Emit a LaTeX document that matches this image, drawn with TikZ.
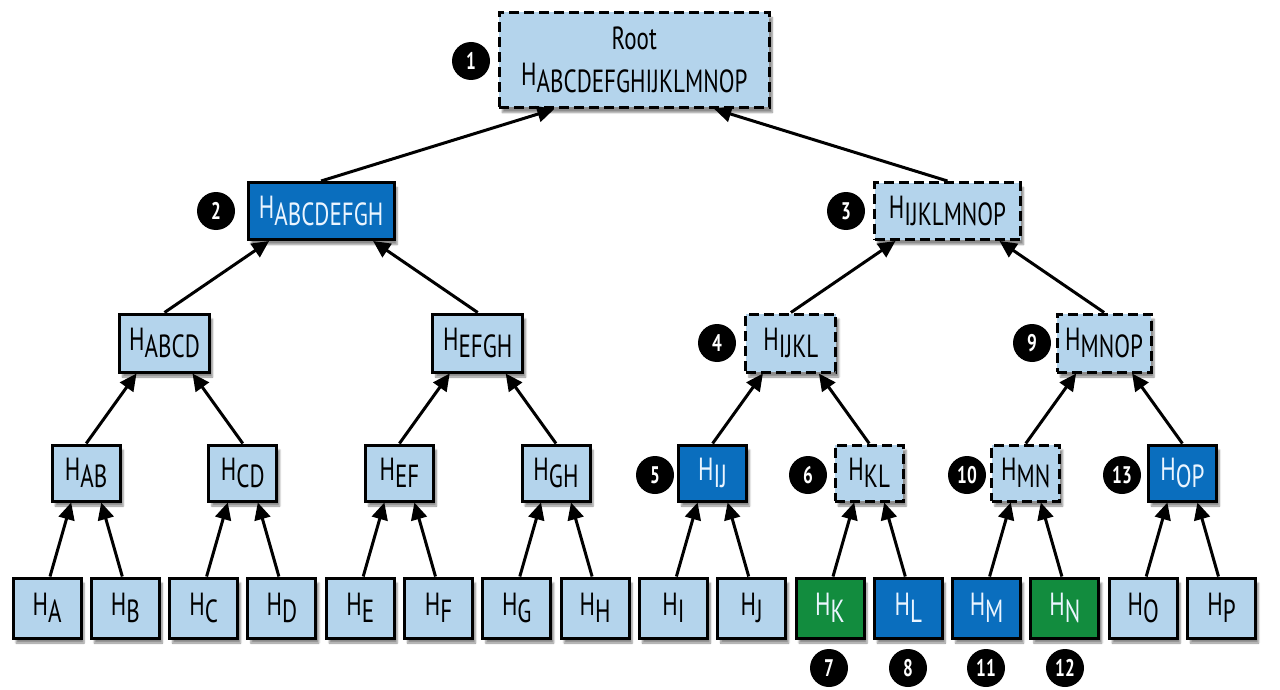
\documentclass[tikz,border=0pt]{standalone}
\usepackage{fontspec}
\newfontfamily\hfont{PT Sans}[FakeStretch=0.72]
\usetikzlibrary{arrows.meta,shadows.blur}
\definecolor{lblue}{RGB}{180,212,236}
\definecolor{dblue}{RGB}{10,110,190}
\definecolor{hgreen}{RGB}{18,140,62}
\definecolor{ltext}{RGB}{235,245,255}
\newcommand{\hh}[1]{H\raisebox{-7pt}{#1}}
\tikzset{
  hbox/.style={draw=black, line width=3pt, inner xsep=8pt, inner ysep=0pt,
    font=\hfont\fontsize{32}{34}\selectfont,
    blur shadow={shadow xshift=3pt, shadow yshift=-5pt, shadow blur steps=6, shadow opacity=45}},
  lite/.style={hbox, fill=lblue, text=black},
  dark/.style={hbox, fill=dblue, text=ltext},
  grn/.style={hbox, fill=hgreen, text=ltext},
  onpath/.style={dash pattern=on 10pt off 5pt},
  leaf/.style={minimum width=68pt, minimum height=60pt},
  lone/.style={minimum width=68pt, minimum height=56pt},
  ltwo/.style={minimum width=90pt, minimum height=58pt},
  lthree/.style={minimum width=146pt, minimum height=57pt},
  numdot/.style={circle, fill=black, text=white, minimum size=38pt, inner sep=0pt,
    font=\hfont\bfseries\fontsize{24}{24}\selectfont},
  arr/.style={line width=3pt, -{Triangle[length=17pt,width=16pt]}},
}
\begin{document}
\begin{tikzpicture}[x=1pt,y=-1pt]
\useasboundingbox (0,0) rectangle (1280,690);
% leaves
\node[lite,leaf] (A) at (47,608) {\hh{A}};
\node[lite,leaf] (B) at (125.3,608) {\hh{B}};
\node[lite,leaf] (C) at (203.6,608) {\hh{C}};
\node[lite,leaf] (D) at (281.9,608) {\hh{D}};
\node[lite,leaf] (E) at (360.2,608) {\hh{E}};
\node[lite,leaf] (F) at (438.5,608) {\hh{F}};
\node[lite,leaf] (G) at (516.8,608) {\hh{G}};
\node[lite,leaf] (H) at (595.1,608) {\hh{H}};
\node[lite,leaf] (I) at (673.4,608) {\hh{I}};
\node[lite,leaf] (J) at (751.7,608) {\hh{J}};
\node[grn,leaf] (K) at (830,608) {\hh{K}};
\node[dark,leaf] (L) at (908.3,608) {\hh{L}};
\node[dark,leaf] (M) at (986.6,608) {\hh{M}};
\node[grn,leaf] (N) at (1064.9,608) {\hh{N}};
\node[lite,leaf] (O) at (1143.2,608) {\hh{O}};
\node[lite,leaf] (P) at (1221.5,608) {\hh{P}};
% level 1
\node[lite,lone] (AB) at (86.2,473) {\hh{AB}};
\node[lite,lone] (CD) at (242.8,473) {\hh{CD}};
\node[lite,lone] (EF) at (399.4,473) {\hh{EF}};
\node[lite,lone] (GH) at (556,473) {\hh{GH}};
\node[dark,lone] (IJ) at (712.6,473) {\hh{IJ}};
\node[lite,lone,onpath] (KL) at (869.2,473) {\hh{KL}};
\node[lite,lone,onpath] (MN) at (1025.8,473) {\hh{MN}};
\node[dark,lone] (OP) at (1182.4,473) {\hh{OP}};
% level 2
\node[lite,ltwo] (ABCD) at (164.5,343) {\hh{ABCD}};
\node[lite,ltwo] (EFGH) at (477.7,343) {\hh{EFGH}};
\node[lite,ltwo,onpath] (IJKL) at (790.9,343) {\hh{IJKL}};
\node[lite,ltwo,onpath] (MNOP) at (1104.1,343) {\hh{MNOP}};
% level 3
\node[dark,lthree] (AH) at (321.1,211) {\hh{ABCDEFGH}};
\node[lite,lthree,onpath] (IP) at (947.5,211) {\hh{IJKLMNOP}};
% root
\node[lite,onpath,minimum width=270pt,minimum height=95pt,align=center] (root) at (634.3,60)
  {Root\\[2pt]\hh{ABCDEFGHIJKLMNOP}};
% arrows leaves -> level 1
\foreach \a/\b/\p in {A/B/AB, C/D/CD, E/F/EF, G/H/GH, I/J/IJ, K/L/KL, M/N/MN, O/P/OP}{
  \draw[arr] ([xshift=3pt]\a.north) -- ([xshift=-15pt]\p.south);
  \draw[arr] ([xshift=-3pt]\b.north) -- ([xshift=15pt]\p.south);
}
\foreach \a/\b/\p in {AB/CD/ABCD, EF/GH/EFGH, IJ/KL/IJKL, MN/OP/MNOP}{
  \draw[arr] (\a.north) -- ([xshift=-28pt]\p.south);
  \draw[arr] (\b.north) -- ([xshift=28pt]\p.south);
}
\foreach \a/\b/\p in {ABCD/EFGH/AH, IJKL/MNOP/IP}{
  \draw[arr] (\a.north) -- ([xshift=-52pt]\p.south);
  \draw[arr] (\b.north) -- ([xshift=52pt]\p.south);
}
\draw[arr] (AH.north) -- ([xshift=-80pt]root.south);
\draw[arr] (IP.north) -- ([xshift=80pt]root.south);
% markers
\node[numdot] (m1) at (471,61) {1};
\node[numdot] (m2) at (216,211) {2};
\node[numdot] (m3) at (846,211) {3};
\node[numdot] (m4) at (717,343) {4};
\node[numdot] (m9) at (1032,343) {9};
\node[numdot] (m5) at (655,475) {5};
\node[numdot] (m6) at (808,475) {6};
\node[numdot] (m10) at (967,475) {10};
\node[numdot] (m13) at (1122,475) {13};
\node[numdot] (m7) at (829,668) {7};
\node[numdot] (m8) at (908,668) {8};
\node[numdot] (m11) at (986,668) {11};
\node[numdot] (m12) at (1065,668) {12};
\end{tikzpicture}
\end{document}
